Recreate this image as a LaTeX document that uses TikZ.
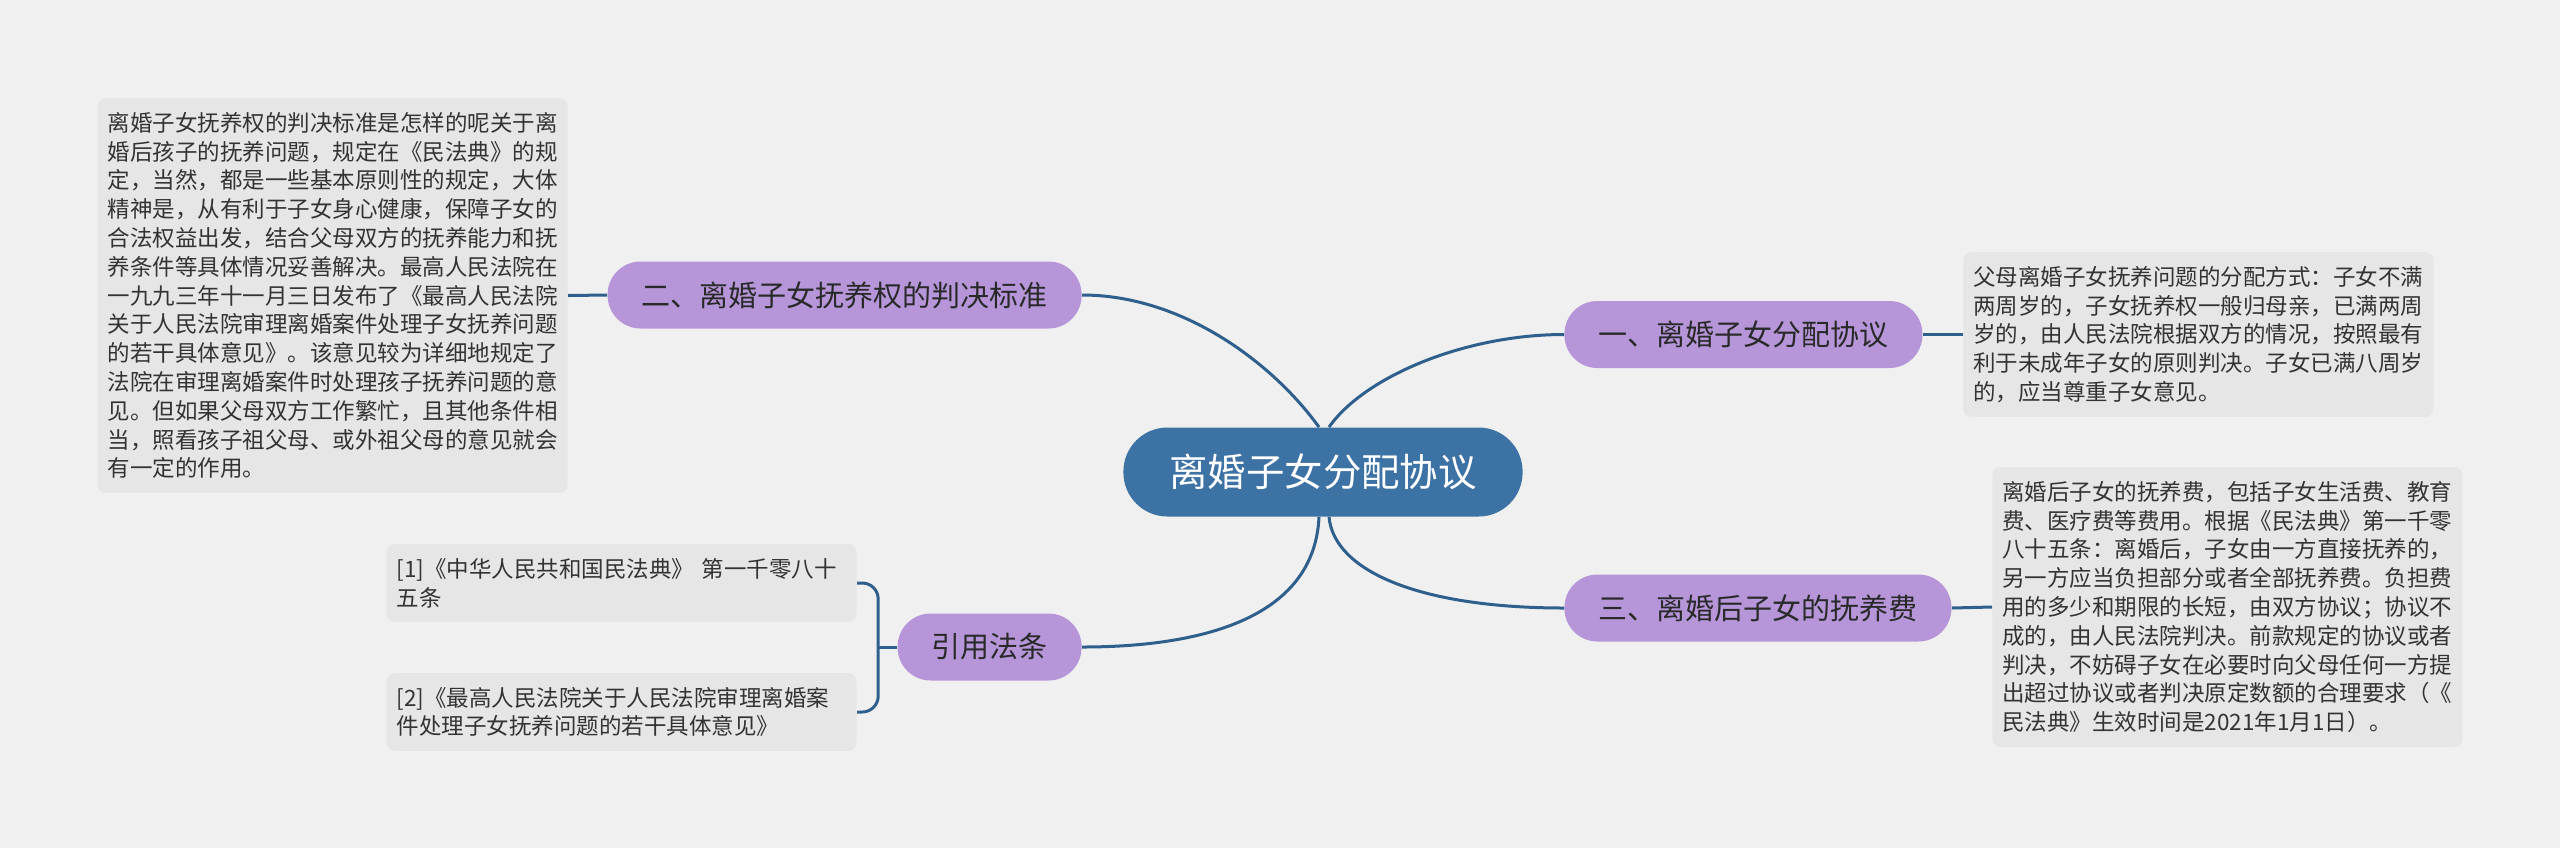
\documentclass[tikz,border=0pt]{standalone}
\usepackage{fontspec}
\setmainfont{Noto Sans CJK SC}
\usepackage{tikz}
\usetikzlibrary{positioning,calc}
\definecolor{canvas}{HTML}{F0F0F0}
\definecolor{rootblue}{HTML}{3D72A5}
\definecolor{lilac}{HTML}{B696D9}
\definecolor{paper}{HTML}{E6E6E6}
\definecolor{wire}{HTML}{2F5F8C}
\definecolor{ink}{HTML}{333333}
\tikzset{
  link/.style={draw=wire,line width=1.5pt},
  topic/.style={fill=rootblue,text=white,rounded corners=22pt,
    minimum height=44.5pt,inner xsep=23pt,font=\fontsize{19.2pt}{23pt}\selectfont},
  branch/.style={fill=lilac,text=ink!80!black,rounded corners=16.5pt,
    minimum height=33.5pt,inner xsep=17pt,font=\fontsize{14.5pt}{17pt}\selectfont},
  note/.style={fill=paper,text=ink,rounded corners=4pt,text width=225pt,
    inner xsep=5pt,inner ysep=7pt,align=left,font=\fontsize{11.25pt}{14.4pt}\selectfont},
}
\begin{document}
\begin{tikzpicture}[x=0.5pt,y=-0.5pt]
    \fill[canvas] (0,0) rectangle (2560,848);
    % centre and branches
    \node[topic] (root) at (1323,472) {离婚子女分配协议};
    \node[branch,anchor=west] (n1) at (1564,334.5) {一、离婚子女分配协议};
    \node[branch,anchor=west] (n3) at (1564,608) {三、离婚后子女的抚养费};
    \node[branch,anchor=east] (n2) at (1082,295) {二、离婚子女抚养权的判决标准};
    \node[branch,anchor=east] (cite) at (1082,647) {引用法条};
    % notes
    \node[note,anchor=west] (r1) at (1963,334.5) {父母离婚子女抚养问题的分配方式：子女不满\\两周岁的，子女抚养权一般归母亲，已满两周\\岁的，由人民法院根据双方的情况，按照最有\\利于未成年子女的原则判决。子女已满八周岁\\的，应当尊重子女意见。};
    \node[note,anchor=west] (r2) at (1992,607) {离婚后子女的抚养费，包括子女生活费、教育\\费、医疗费等费用。根据《民法典》第一千零\\八十五条：离婚后，子女由一方直接抚养的，\\另一方应当负担部分或者全部抚养费。负担费\\用的多少和期限的长短，由双方协议；协议不\\成的，由人民法院判决。前款规定的协议或者\\判决，不妨碍子女在必要时向父母任何一方提\\出超过协议或者判决原定数额的合理要求（《\\民法典》生效时间是2021年1月1日）。};
    \node[note,anchor=east] (s2) at (568,295.5) {离婚子女抚养权的判决标准是怎样的呢关于离\\婚后孩子的抚养问题，规定在《民法典》的规\\定，当然，都是一些基本原则性的规定，大体\\精神是，从有利于子女身心健康，保障子女的\\合法权益出发，结合父母双方的抚养能力和抚\\养条件等具体情况妥善解决。最高人民法院在\\一九九三年十一月三日发布了《最高人民法院\\关于人民法院审理离婚案件处理子女抚养问题\\的若干具体意见》。该意见较为详细地规定了\\法院在审理离婚案件时处理孩子抚养问题的意\\见。但如果父母双方工作繁忙，且其他条件相\\当，照看孩子祖父母、或外祖父母的意见就会\\有一定的作用。};
    \node[note,anchor=east] (c1) at (857,583) {[1]《中华人民共和国民法典》 第一千零八十\\五条};
    \node[note,anchor=east] (c2) at (857,712) {[2]《最高人民法院关于人民法院审理离婚案\\件处理子女抚养问题的若干具体意见》};
    % connectors
    \draw[link] ([xshift=-2pt]root.north) .. controls +(-47,-65) and +(100,0) .. (n2.east);
    \draw[link] ([xshift=3pt]root.north) .. controls +(35,-50) and +(-100,0) .. (n1.west);
    \draw[link] ([xshift=-2pt]root.south) .. controls +(-5,110) and +(100,0) .. (cite.east);
    \draw[link] ([xshift=3pt]root.south) .. controls +(5,54) and +(-145,0) .. (n3.west);
    \draw[link] (n1.east) -- (r1.west);
    \draw[link] (n3.east) -- (r2.west);
    \draw[link] (n2.west) -- (s2.east);
    \coordinate (fork) at ([xshift=-9.5pt]cite.west);
    \draw[link] (cite.west) -- (fork);
    \draw[link,rounded corners=8pt] (c1.east) -| (fork) |- (c2.east);
\end{tikzpicture}
\end{document}
